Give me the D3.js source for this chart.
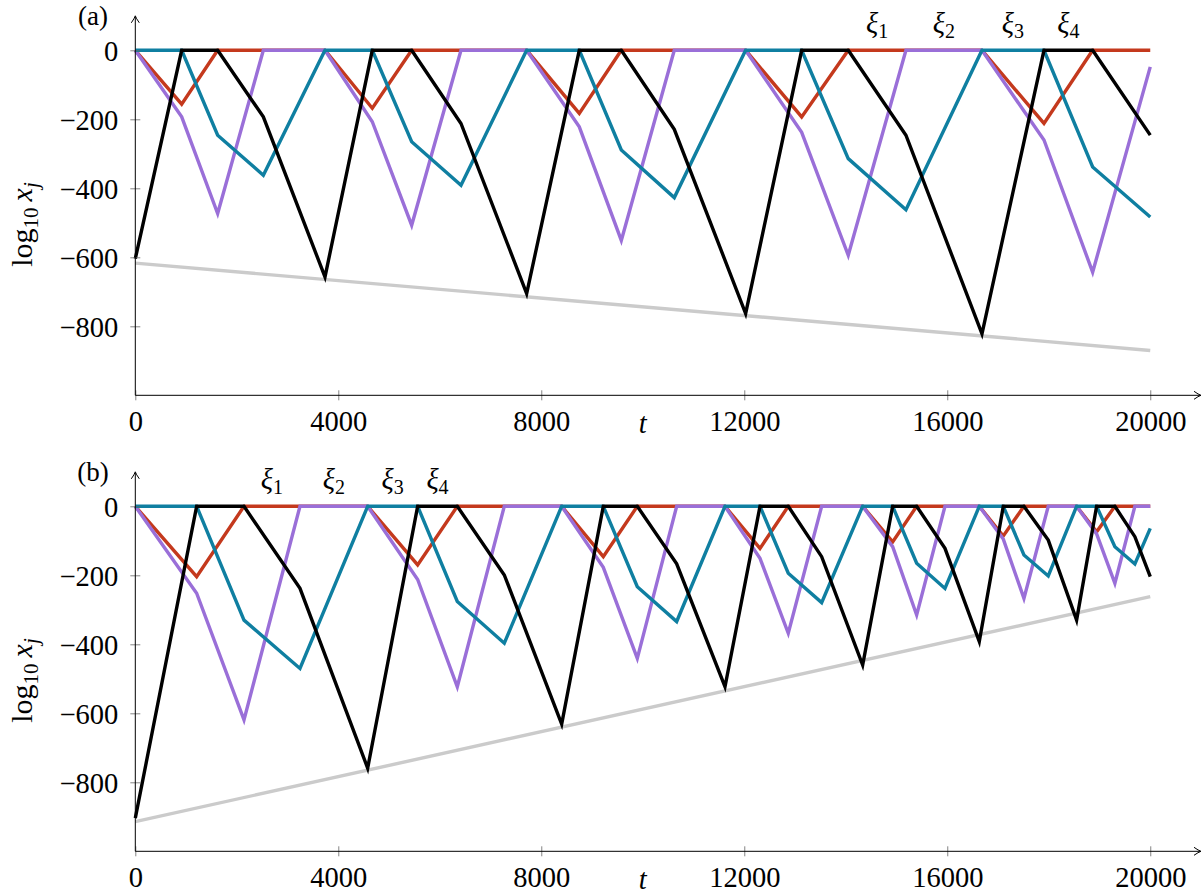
<!DOCTYPE html>
<html><head><meta charset="utf-8">
<script src="https://cdn.jsdelivr.net/npm/d3@7"></script>
<style>
body{margin:0;background:#fff}
svg{display:block;background:#fff}
text{font-family:"Liberation Serif","Times New Roman",serif;fill:#000}
</style>
</head><body>
<svg id="c" width="1203" height="896"></svg>
<script>
// ---------- data ----------
const xTicks = [0, 4000, 8000, 12000, 16000, 20000];
const yTicks = [0, -200, -400, -600, -800];
const panelLabels = ["(a)", "(b)"];
const xiNames = ["1", "2", "3", "4"];

// panel (a)
const tA      = [0, 914, 1623, 2523, 3738, 4670, 5446, 6418, 7712, 8749, 9577, 10621, 12027, 13131, 14049, 15186, 16684, 17906, 18865, 20000];
const redA    = [0, -156, 0, 0, 0, -168, 0, 0, 0, -183, 0, 0, 0, -193, 0, 0, 0, -212, 0, 0];
const purpleA = [0, -193, -473, 0, 0, -207, -507, 0, 0, -222, -551, 0, 0, -238, -594, 0, 0, -260, -643, -48];
const tealA   = [0, 0, -246, -362, 0, 0, -265, -391, 0, 0, -289, -427, 0, 0, -314, -462, 0, 0, -338, -483];
const blackA  = [-604, 0, 0, -193, -657, 0, 0, -212, -705, 0, 0, -229, -763, 0, 0, -246, -822, 0, 0, -246];
const grayTA  = [0, 20000];
const grayA   = [-617, -870];
const xiPosA  = [14617, 15935, 17295, 18385];

// panel (b)
const tB      = [0, 1209, 2142, 3245, 4579, 5564, 6345, 7271, 8402, 9222, 9892, 10668, 11620, 12310, 12867, 13525, 14333, 14924, 15397, 15955, 16631, 17104, 17511, 17990, 18549, 18943, 19303, 19697, 20000];
const redB    = [0, -204, 0, 0, 0, -170, 0, 0, 0, -146, 0, 0, 0, -122, 0, 0, 0, -103, 0, 0, 0, -86, 0, 0, 0, -74, 0, 0, 0];
const purpleB = [0, -252, -619, 0, 0, -212, -523, 0, 0, -177, -441, 0, 0, -151, -368, 0, 0, -117, -315, 0, 0, -95, -267, 0, 0, -80, -223, 0, 0];
const tealB   = [0, 0, -330, -470, 0, 0, -276, -397, 0, 0, -233, -334, 0, 0, -194, -279, 0, 0, -165, -238, 0, 0, -141, -202, 0, 0, -117, -167, -64];
const blackB  = [-904, 0, 0, -238, -759, 0, 0, -199, -631, 0, 0, -167, -523, 0, 0, -146, -460, 0, 0, -122, -392, 0, 0, -98, -330, 0, 0, -88, -204];
const grayTB  = [0, 20000];
const grayB   = [-914, -262];
const xiPosB  = [2693, 3912, 5072, 5955];

// ---------- style ----------
const COL = {red:"#C4391D", purple:"#9A6FD8", teal:"#0F7FA1", black:"#000000", gray:"#CBCBCB"};
const FS = 28.5;

const svg = d3.select("#c");

function drawPanel(cfg){
  const x = d3.scaleLinear().domain([0, 21000]).range([135.3, 1201]);
  const y = d3.scaleLinear().domain([-1000, 100]).range([cfg.bottom, cfg.bottom - 1100*0.345]);
  const g = svg.append("g");

  // series
  const series = [
    {t: cfg.grayT, v: cfg.gray, c: COL.gray},
    {t: cfg.t, v: cfg.red, c: COL.red},
    {t: cfg.t, v: cfg.purple, c: COL.purple},
    {t: cfg.t, v: cfg.teal, c: COL.teal},
    {t: cfg.t, v: cfg.black, c: COL.black}
  ];
  series.forEach(s => {
    const line = d3.line().x((d,i) => x(s.t[i])).y(d => y(d));
    g.append("path").attr("d", line(s.v))
      .attr("fill","none").attr("stroke", s.c).attr("stroke-width", 3.4)
      .attr("stroke-linejoin","miter").attr("stroke-miterlimit", 10);
  });

  // x axis
  const xAxis = d3.axisBottom(x).tickValues(xTicks).tickSize(0).tickPadding(0).tickFormat(d3.format("d"));
  const gx = g.append("g").attr("transform", `translate(0,${y(-1000)})`).call(xAxis);
  gx.select(".domain").remove();
  gx.selectAll(".tick line").attr("y1",-5).attr("y2",5).attr("stroke","#666").attr("stroke-width",0.8);
  gx.selectAll(".tick text").attr("y",36).attr("dy",null).attr("font-size",FS)
    .attr("font-family",'"Liberation Serif",serif').attr("fill","#000");

  // y axis
  const yAxis = d3.axisLeft(y).tickValues(yTicks).tickSize(0).tickPadding(0)
    .tickFormat(d => d < 0 ? "\u2212" + Math.abs(d) : String(d));
  const gy = g.append("g").attr("transform", `translate(${x(0)},0)`).call(yAxis);
  gy.select(".domain").remove();
  gy.selectAll(".tick line").attr("x1",-5).attr("x2",5).attr("stroke","#666").attr("stroke-width",0.8);
  gy.selectAll(".tick text").attr("x",-17).attr("dy","0.34em").attr("font-size",FS)
    .attr("font-family",'"Liberation Serif",serif').attr("fill","#000");

  // axis lines with arrows
  const x0 = x(0), xEnd = x(21000), yb = y(-1000), yTop = y(100);
  g.append("line").attr("x1",x0).attr("y1",yb).attr("x2",xEnd-1).attr("y2",yb).attr("stroke","#000").attr("stroke-width",1);
  g.append("line").attr("x1",x0).attr("y1",yb).attr("x2",x0).attr("y2",yTop+1).attr("stroke","#000").attr("stroke-width",1);
  g.append("path").attr("d",`M${xEnd-7},${yb-4} Q${xEnd-2.5},${yb-0.8} ${xEnd},${yb} Q${xEnd-2.5},${yb+0.8} ${xEnd-7},${yb+4}`)
    .attr("fill","none").attr("stroke","#000").attr("stroke-width",1);
  g.append("path").attr("d",`M${x0-4},${yTop+7} Q${x0-0.8},${yTop+2.5} ${x0},${yTop} Q${x0+0.8},${yTop+2.5} ${x0+4},${yTop+7}`)
    .attr("fill","none").attr("stroke","#000").attr("stroke-width",1);

  // t label
  g.append("text").attr("x", x(10000)).attr("y", yb + 38).attr("text-anchor","middle")
    .attr("font-size",FS).attr("font-style","italic").text("t");

  // y label
  const yl = g.append("text").attr("transform", `translate(32,${y(-505)}) rotate(-90)`)
    .attr("text-anchor","middle").attr("font-size",30);
  yl.append("tspan").text("log");
  yl.append("tspan").attr("font-size",21).attr("dy",6).text("10");
  yl.append("tspan").attr("dy",-6).text("\u2009");
  yl.append("tspan").attr("font-style","italic").text("x");
  yl.append("tspan").attr("font-style","italic").attr("font-size",21).attr("dy",6).text("j");

  // panel label
  g.append("text").attr("x",93).attr("y",y(0)-25.5).attr("text-anchor","middle")
    .attr("font-size",27).text(cfg.label);

  // xi labels
  cfg.xiPos.forEach((p,i) => {
    const tx = g.append("text").attr("x", x(p)).attr("y", y(0)-17.5)
      .attr("text-anchor","middle").attr("font-size",FS);
    tx.append("tspan").attr("font-style","italic").text("\u03BE");
    tx.append("tspan").attr("font-size",20).attr("dy",5).text(xiNames[i]);
  });
}

drawPanel({bottom:395.3, t:tA, red:redA, purple:purpleA, teal:tealA, black:blackA,
           grayT:grayTA, gray:grayA, xiPos:xiPosA, label:panelLabels[0]});
drawPanel({bottom:851.3, t:tB, red:redB, purple:purpleB, teal:tealB, black:blackB,
           grayT:grayTB, gray:grayB, xiPos:xiPosB, label:panelLabels[1]});
</script>
</body></html>
